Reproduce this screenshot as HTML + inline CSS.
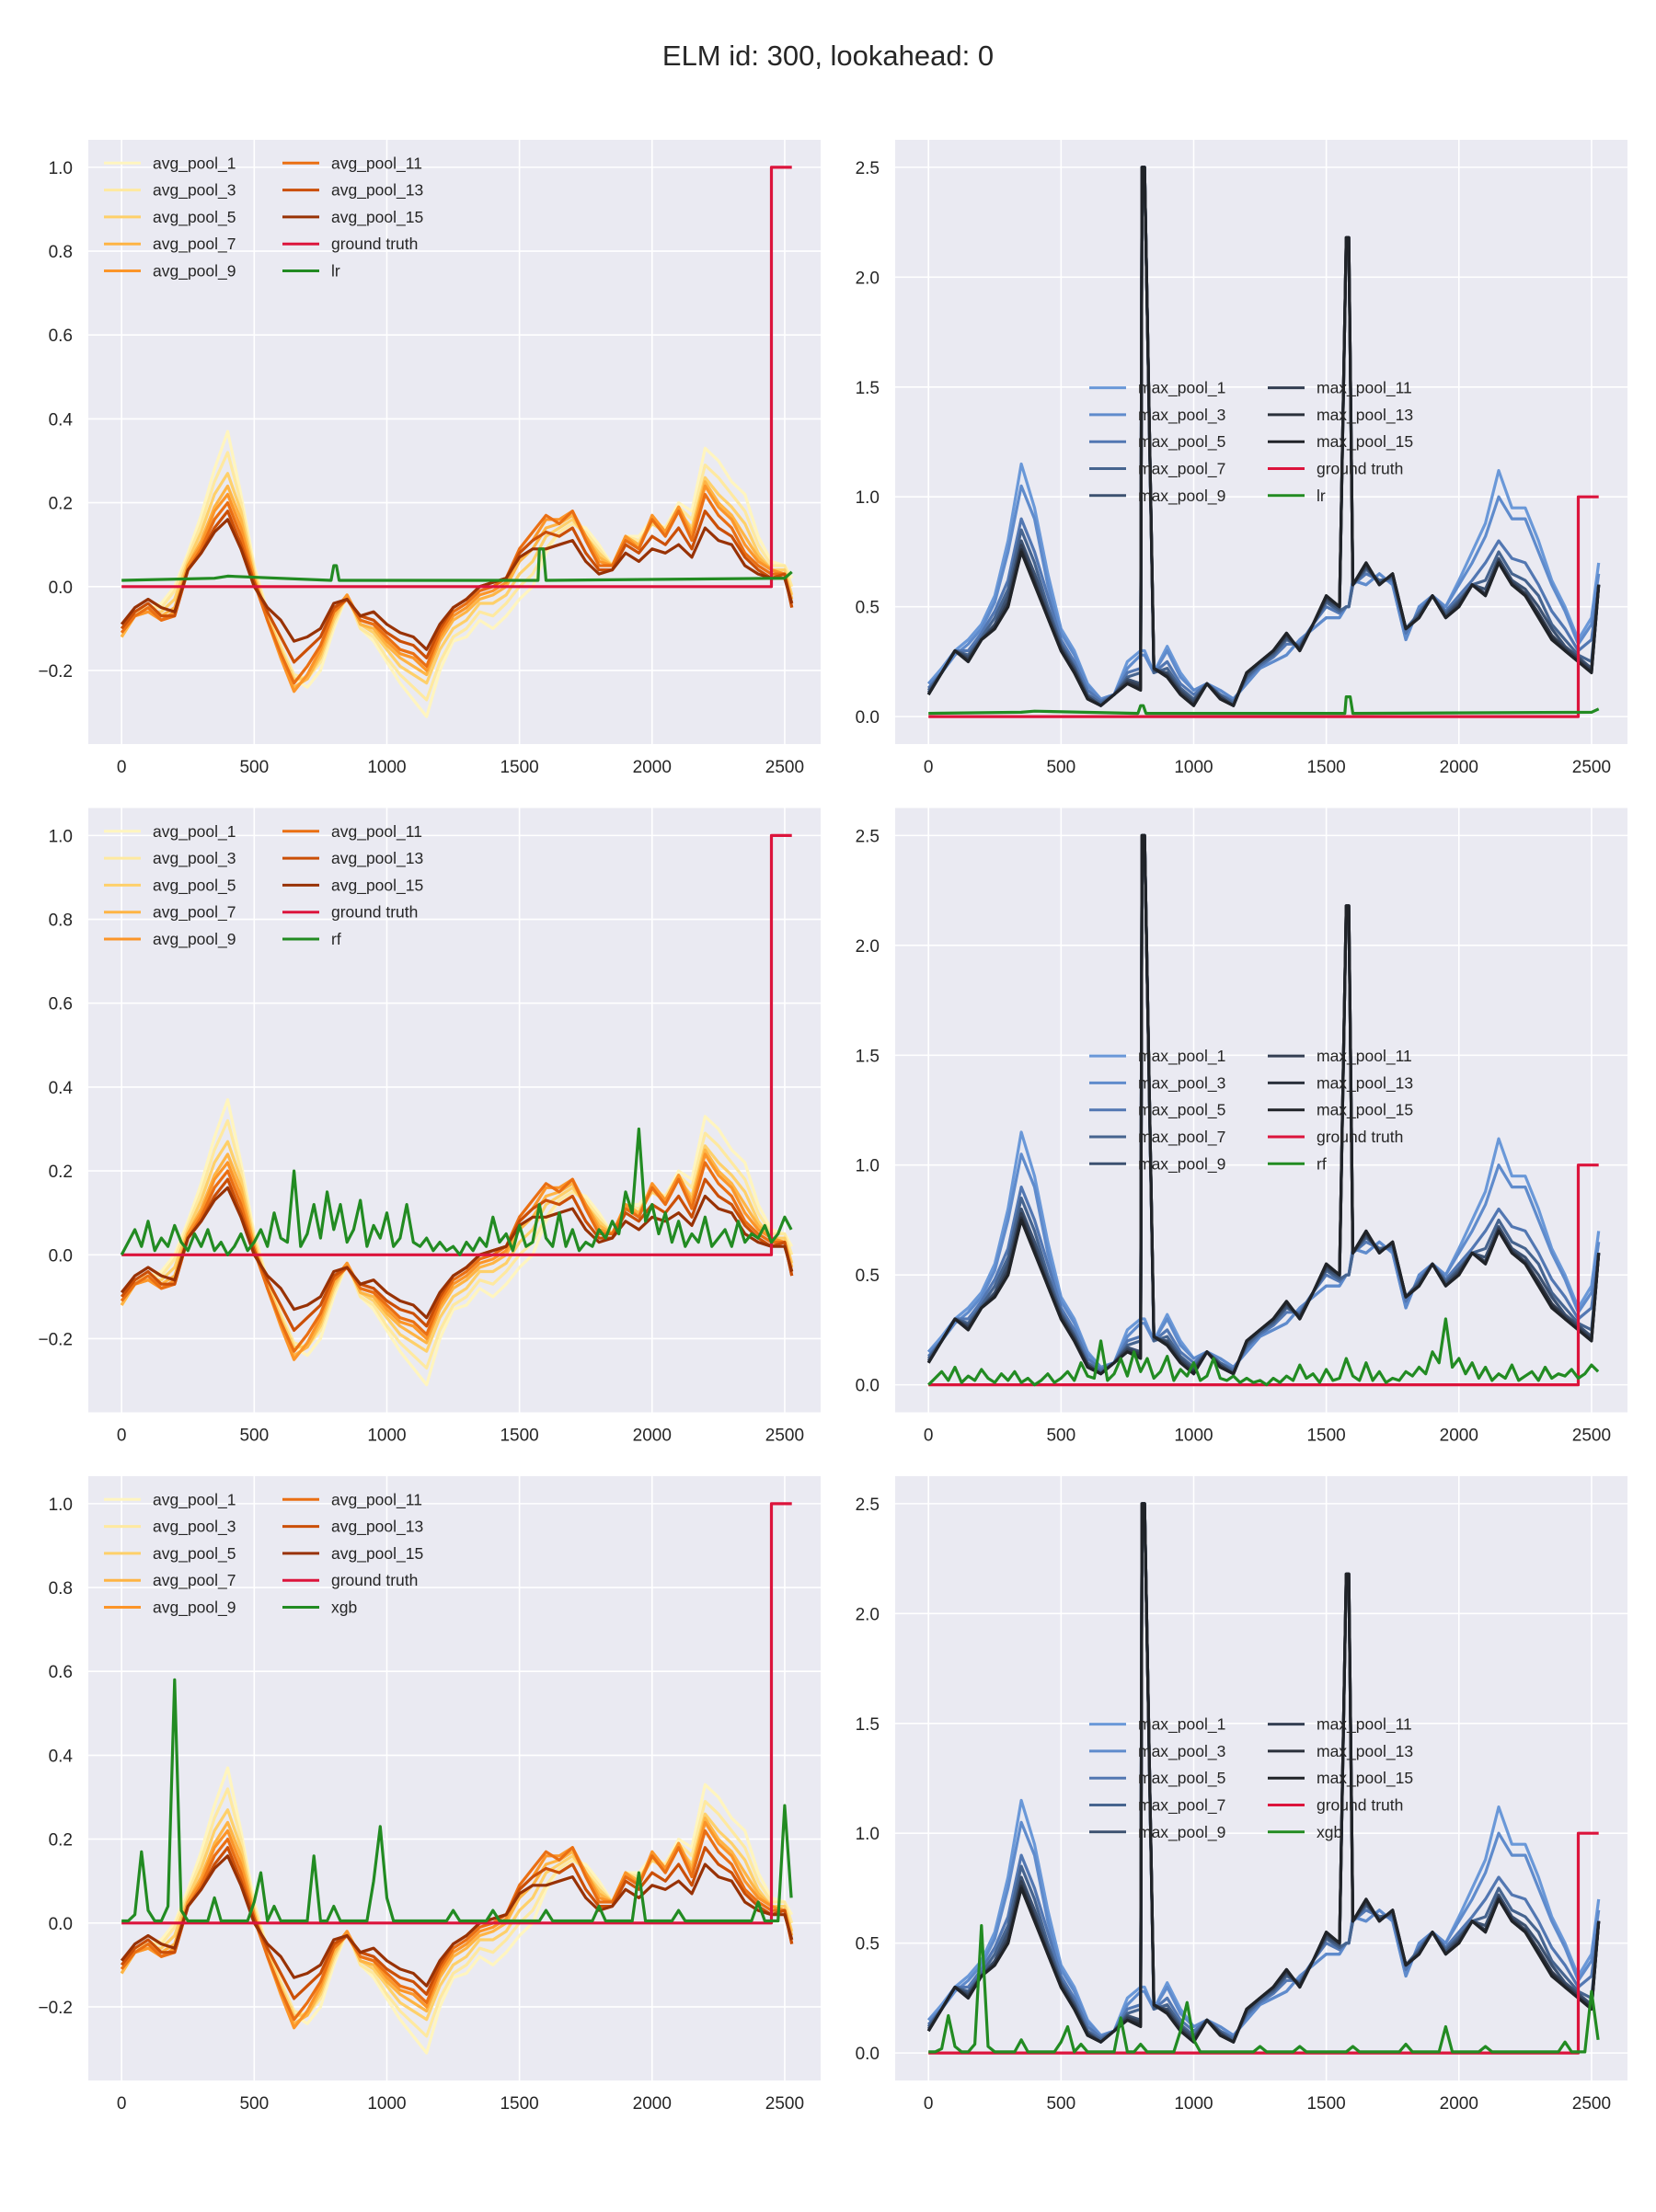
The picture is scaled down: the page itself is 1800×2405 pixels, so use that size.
<!DOCTYPE html>
<html><head><meta charset="utf-8">
<style>
html,body{margin:0;padding:0;background:#fff;}
svg text{font-family:"Liberation Sans","DejaVu Sans",sans-serif;fill:#262626;}
</style></head>
<body>
<svg id="fig" width="1800" height="2400" viewBox="0 0 1800 2400" xmlns="http://www.w3.org/2000/svg">
<rect width="1800" height="2400" fill="#fff"/>
<text x="900" y="71" font-size="31" text-anchor="middle">ELM id: 300, lookahead: 0</text>
</svg>
<script>
// ---------- data ----------
const avgX = [0,50,100,150,200,250,300,350,400,450,500,550,600,650,700,750,800,850,900,950,1000,1050,1100,1150,1200,1250,1300,1350,1400,1450,1500,1550,1600,1650,1700,1750,1800,1850,1900,1950,2000,2050,2100,2150,2200,2250,2300,2350,2400,2450,2500,2527];
const avg1 = [-0.12,-0.06,-0.05,-0.04,0.0,0.08,0.17,0.28,0.37,0.22,0.05,-0.06,-0.14,-0.22,-0.24,-0.20,-0.10,-0.02,-0.10,-0.13,-0.18,-0.23,-0.27,-0.31,-0.20,-0.13,-0.12,-0.08,-0.10,-0.07,-0.03,0.0,0.08,0.13,0.15,0.14,0.10,0.05,0.12,0.12,0.16,0.14,0.20,0.18,0.33,0.30,0.25,0.22,0.12,0.06,0.05,0.02];
const avg3 = [-0.12,-0.06,-0.05,-0.05,-0.01,0.07,0.15,0.25,0.32,0.20,0.04,-0.06,-0.14,-0.21,-0.22,-0.18,-0.09,-0.02,-0.10,-0.12,-0.17,-0.21,-0.24,-0.27,-0.18,-0.12,-0.10,-0.06,-0.07,-0.04,0.0,0.03,0.09,0.13,0.15,0.13,0.09,0.05,0.12,0.11,0.15,0.14,0.19,0.16,0.29,0.26,0.22,0.18,0.10,0.05,0.05,0.0];
const avg5 = [-0.12,-0.07,-0.06,-0.06,-0.03,0.06,0.13,0.22,0.27,0.18,0.03,-0.07,-0.15,-0.22,-0.22,-0.17,-0.08,-0.02,-0.09,-0.11,-0.15,-0.19,-0.21,-0.23,-0.15,-0.10,-0.08,-0.04,-0.04,-0.02,0.03,0.06,0.12,0.14,0.16,0.12,0.08,0.05,0.12,0.10,0.15,0.13,0.18,0.14,0.26,0.22,0.19,0.15,0.08,0.04,0.04,-0.02];
const avg7 = [-0.12,-0.07,-0.06,-0.07,-0.05,0.05,0.11,0.19,0.24,0.16,0.02,-0.08,-0.16,-0.24,-0.22,-0.16,-0.07,-0.02,-0.09,-0.10,-0.14,-0.17,-0.19,-0.21,-0.13,-0.08,-0.06,-0.03,-0.02,0.0,0.06,0.09,0.14,0.15,0.17,0.12,0.07,0.05,0.12,0.10,0.16,0.13,0.19,0.13,0.25,0.20,0.17,0.12,0.07,0.04,0.03,-0.03];
const avg9 = [-0.11,-0.07,-0.06,-0.08,-0.06,0.05,0.10,0.18,0.22,0.14,0.02,-0.08,-0.17,-0.25,-0.21,-0.15,-0.06,-0.02,-0.08,-0.09,-0.13,-0.16,-0.17,-0.20,-0.12,-0.07,-0.05,-0.02,-0.01,0.01,0.08,0.11,0.16,0.16,0.18,0.12,0.06,0.05,0.12,0.09,0.17,0.13,0.19,0.12,0.24,0.19,0.16,0.10,0.06,0.04,0.03,-0.04];
const avg11 = [-0.11,-0.07,-0.05,-0.08,-0.07,0.04,0.09,0.16,0.20,0.12,0.01,-0.08,-0.16,-0.23,-0.19,-0.14,-0.06,-0.03,-0.08,-0.09,-0.12,-0.15,-0.16,-0.19,-0.11,-0.06,-0.04,-0.01,0.0,0.02,0.09,0.13,0.17,0.15,0.18,0.11,0.05,0.05,0.11,0.09,0.16,0.12,0.18,0.11,0.22,0.17,0.14,0.08,0.05,0.03,0.03,-0.05];
const avg13 = [-0.10,-0.06,-0.04,-0.07,-0.07,0.04,0.08,0.14,0.18,0.10,0.01,-0.06,-0.12,-0.18,-0.15,-0.12,-0.05,-0.03,-0.07,-0.08,-0.11,-0.13,-0.14,-0.17,-0.10,-0.05,-0.03,0.0,0.01,0.02,0.08,0.11,0.13,0.12,0.14,0.08,0.04,0.04,0.10,0.08,0.12,0.10,0.14,0.09,0.18,0.14,0.12,0.07,0.04,0.02,0.03,-0.05];
const avg15 = [-0.09,-0.05,-0.03,-0.05,-0.06,0.04,0.08,0.13,0.16,0.09,0.0,-0.05,-0.08,-0.13,-0.12,-0.10,-0.04,-0.03,-0.07,-0.06,-0.09,-0.11,-0.12,-0.15,-0.09,-0.05,-0.03,0.0,0.01,0.02,0.07,0.09,0.09,0.10,0.11,0.06,0.03,0.04,0.08,0.06,0.09,0.08,0.10,0.07,0.14,0.11,0.10,0.05,0.03,0.02,0.02,-0.04];

const mpX = [0,50,100,150,200,250,300,350,400,450,500,550,600,650,700,750,800,805,815,850,900,950,1000,1050,1100,1150,1200,1250,1300,1350,1400,1450,1500,1550,1575,1585,1600,1650,1700,1750,1800,1850,1900,1950,2000,2050,2100,2150,2200,2250,2300,2350,2400,2450,2500,2527];
const mp1 = [0.15,0.22,0.3,0.35,0.42,0.55,0.8,1.15,0.95,0.65,0.4,0.3,0.15,0.08,0.1,0.25,0.3,0.3,0.3,0.2,0.32,0.2,0.12,0.15,0.12,0.08,0.15,0.22,0.25,0.28,0.35,0.4,0.45,0.45,0.5,0.5,0.62,0.6,0.65,0.6,0.35,0.5,0.55,0.5,0.62,0.75,0.88,1.12,0.95,0.95,0.8,0.62,0.5,0.35,0.45,0.7];
const mp3 = [0.15,0.2,0.28,0.33,0.4,0.52,0.75,1.05,0.9,0.6,0.38,0.28,0.14,0.08,0.1,0.22,0.28,0.28,0.28,0.2,0.3,0.18,0.12,0.15,0.12,0.08,0.15,0.22,0.25,0.28,0.35,0.4,0.45,0.45,0.5,0.5,0.62,0.6,0.65,0.6,0.35,0.5,0.55,0.5,0.6,0.7,0.82,1.0,0.9,0.9,0.75,0.6,0.48,0.33,0.42,0.65];
const mp5 = [0.13,0.2,0.3,0.3,0.38,0.48,0.62,0.9,0.75,0.55,0.35,0.25,0.12,0.07,0.1,0.2,0.22,2.5,2.5,0.2,0.25,0.15,0.1,0.15,0.1,0.07,0.17,0.23,0.27,0.33,0.33,0.42,0.5,0.47,0.5,0.5,0.6,0.65,0.62,0.62,0.38,0.48,0.55,0.48,0.55,0.62,0.7,0.8,0.72,0.7,0.6,0.48,0.4,0.3,0.35,0.6];
const mp7 = [0.12,0.2,0.3,0.28,0.36,0.45,0.58,0.85,0.7,0.5,0.33,0.23,0.1,0.06,0.1,0.18,0.2,2.5,2.5,0.2,0.22,0.13,0.08,0.15,0.1,0.06,0.18,0.24,0.28,0.35,0.32,0.42,0.52,0.48,0.5,0.5,0.6,0.67,0.62,0.63,0.4,0.47,0.55,0.47,0.53,0.6,0.62,0.75,0.65,0.62,0.55,0.42,0.35,0.28,0.25,0.6];
const mp9 = [0.11,0.2,0.3,0.27,0.35,0.42,0.55,0.8,0.65,0.48,0.32,0.22,0.09,0.05,0.1,0.17,0.15,2.5,2.5,0.21,0.2,0.12,0.07,0.15,0.09,0.05,0.19,0.25,0.29,0.36,0.31,0.42,0.53,0.49,2.18,2.18,0.6,0.68,0.61,0.64,0.4,0.46,0.55,0.46,0.52,0.6,0.58,0.72,0.62,0.58,0.5,0.4,0.32,0.27,0.22,0.6];
const mp11 = [0.1,0.2,0.3,0.26,0.35,0.41,0.52,0.78,0.62,0.46,0.31,0.21,0.09,0.05,0.1,0.16,0.14,2.5,2.5,0.22,0.19,0.11,0.06,0.15,0.09,0.05,0.2,0.25,0.3,0.37,0.31,0.42,0.54,0.5,2.18,2.18,0.6,0.69,0.6,0.65,0.4,0.45,0.55,0.45,0.51,0.6,0.56,0.71,0.61,0.56,0.47,0.37,0.31,0.26,0.21,0.6];
const mp13 = [0.1,0.2,0.3,0.25,0.35,0.4,0.5,0.76,0.61,0.45,0.3,0.2,0.08,0.05,0.1,0.15,0.13,2.5,2.5,0.22,0.18,0.1,0.05,0.15,0.08,0.05,0.2,0.25,0.3,0.38,0.3,0.42,0.55,0.5,2.18,2.18,0.6,0.7,0.6,0.65,0.4,0.45,0.55,0.45,0.5,0.6,0.55,0.7,0.6,0.55,0.46,0.36,0.3,0.25,0.2,0.6];
const mp15 = [0.1,0.2,0.3,0.25,0.35,0.4,0.5,0.75,0.6,0.45,0.3,0.2,0.08,0.05,0.1,0.15,0.12,2.5,2.5,0.22,0.18,0.1,0.05,0.15,0.08,0.05,0.2,0.25,0.3,0.38,0.3,0.42,0.55,0.5,2.18,2.18,0.6,0.7,0.6,0.65,0.4,0.45,0.55,0.45,0.5,0.6,0.55,0.7,0.6,0.55,0.45,0.35,0.3,0.25,0.2,0.6];

const gtX = [0,2450,2450,2527];
const gtY = [0,0,1,1];

const lrX = [0,350,400,790,800,810,820,1570,1575,1590,1600,2500,2527];
const lrY = [0.015,0.02,0.025,0.015,0.05,0.05,0.015,0.015,0.09,0.09,0.015,0.02,0.035];

const modelStep = 25;
const rfY = [0,0.03,0.06,0.02,0.08,0.01,0.04,0.02,0.07,0.03,0.01,0.05,0.02,0.06,0.01,0.03,0.0,0.02,0.05,0.01,0.03,0.06,0.02,0.1,0.04,0.03,0.2,0.02,0.05,0.12,0.04,0.15,0.06,0.12,0.03,0.06,0.13,0.02,0.07,0.04,0.1,0.02,0.04,0.12,0.03,0.02,0.04,0.01,0.03,0.01,0.02,0.0,0.03,0.01,0.04,0.02,0.09,0.03,0.05,0.01,0.07,0.02,0.03,0.12,0.04,0.02,0.1,0.02,0.06,0.01,0.03,0.02,0.06,0.04,0.08,0.05,0.15,0.1,0.3,0.08,0.12,0.05,0.1,0.03,0.08,0.02,0.05,0.03,0.09,0.02,0.04,0.06,0.02,0.08,0.03,0.05,0.04,0.07,0.03,0.05,0.09,0.06];
const xgbY = [0.005,0.005,0.02,0.17,0.03,0.005,0.005,0.04,0.58,0.03,0.005,0.005,0.005,0.005,0.06,0.005,0.005,0.005,0.005,0.005,0.05,0.12,0.005,0.04,0.005,0.005,0.005,0.005,0.005,0.16,0.005,0.005,0.04,0.005,0.005,0.005,0.005,0.005,0.1,0.23,0.06,0.005,0.005,0.005,0.005,0.005,0.005,0.005,0.005,0.005,0.03,0.005,0.005,0.005,0.005,0.005,0.03,0.005,0.005,0.005,0.005,0.005,0.005,0.005,0.03,0.005,0.005,0.005,0.005,0.005,0.005,0.005,0.04,0.005,0.005,0.005,0.005,0.005,0.12,0.005,0.005,0.005,0.005,0.005,0.03,0.005,0.005,0.005,0.005,0.005,0.005,0.005,0.005,0.005,0.005,0.005,0.05,0.005,0.005,0.005,0.28,0.06];

const avgNames = ['avg_pool_1','avg_pool_3','avg_pool_5','avg_pool_7','avg_pool_9','avg_pool_11','avg_pool_13','avg_pool_15'];
const mpNames = ['max_pool_1','max_pool_3','max_pool_5','max_pool_7','max_pool_9','max_pool_11','max_pool_13','max_pool_15'];
const xTicks = [0,500,1000,1500,2000,2500];
const leftYTicks = [-0.2,0,0.2,0.4,0.6,0.8,1.0];
const rightYTicks = [0,0.5,1.0,1.5,2.0,2.5];
const modelNames = ['lr','rf','xgb'];

// ---------- styles / layout ----------
const avgData = [avg1,avg3,avg5,avg7,avg9,avg11,avg13,avg15];
const mpData = [mp1,mp3,mp5,mp7,mp9,mp11,mp13,mp15];
const avgColors = ['#fff5bf','#fee9a0','#fed06a','#feb444','#fb9529','#ea6f13','#cb4f07','#983205'];
const mpColors = ['#6a98d8','#5f8bcc','#5277b2','#46648f','#3c5170','#333e52','#2a303b','#202328'];
const GT = '#dc143c', GREEN = '#228b22';
const NS = 'http://www.w3.org/2000/svg';
const fig = document.getElementById('fig');
const W = 796, H = 657, LX = 96, RX = 973, TOP0 = 152, ROWGAP = 726.5;
const XL = [-125.5, 2635.5];

function el(tag, attrs, parent){ const e=document.createElementNS(NS,tag); for(const k in attrs) e.setAttribute(k,attrs[k]); (parent||fig).appendChild(e); return e; }

function makeAxes(x0,y0,ylim,yTicks,fmt,name){
  const g = el('g',{});
  
  
  const sx = v => x0 + (v-XL[0])/(XL[1]-XL[0])*W;
  const sy = v => y0 + H - (v-ylim[0])/(ylim[1]-ylim[0])*H;
  const bg = el('rect',{x:x0,y:y0,width:W,height:H,fill:'#eaeaf2'},g);
  
  
  xTicks.forEach(t=>{
    const l = el('line',{x1:sx(t),x2:sx(t),y1:y0,y2:y0+H,stroke:'#fff','stroke-width':1.6},g);
    
    
    const tx = el('text',{x:sx(t),y:y0+H+31,'font-size':19,'text-anchor':'middle'},g);
    
    
    tx.textContent = t;
  });
  yTicks.forEach(t=>{
    const l = el('line',{x1:x0,x2:x0+W,y1:sy(t),y2:sy(t),stroke:'#fff','stroke-width':1.6},g);
    
    
    const tx = el('text',{x:x0-17,y:sy(t)+7,'font-size':19,'text-anchor':'end'},g);
    
    
    tx.textContent = fmt(t);
  });
  const clipId = name+'-clip';
  const cp = el('clipPath',{id:clipId},g);
  el('rect',{x:x0,y:y0,width:W,height:H},cp);
  const lines = el('g',{'clip-path':'url(#'+clipId+')'},g);
  return {g, sx, sy, lines};
}

function series(ax, xs, ys, color, name, w){
  const pts = xs.map((x,i)=>ax.sx(x).toFixed(1)+','+ax.sy(ys[i]).toFixed(1)).join(' ');
  const p = el('polyline',{points:pts,fill:'none',stroke:color,'stroke-width':w||3.2,'stroke-linejoin':'round'},ax.lines);
  
  
}

function legend(ax, names, colors, hx, ty, name){
  const g = el('g',{},ax.g);
  
  
  names.forEach((n,i)=>{
    const col = Math.floor(i/5), row = i%5;
    const x = hx + col*194, y = ty + row*29.3;
    const h = el('line',{x1:x,x2:x+40,y1:y,y2:y,stroke:colors[i],'stroke-width':3},g);
    
    
    const t = el('text',{x:x+53,y:y+6,'font-size':17.5},g);
    
    
    t.textContent = n;
  });
}

const modelX = rfY.map((_,i)=>i*modelStep);
const models = [[lrX,lrY],[modelX,rfY],[modelX,xgbY]];

for(let r=0;r<3;r++){
  const y0 = TOP0 + r*ROWGAP;
  const [mx,my] = models[r];
  const mname = modelNames[r];
  const L = makeAxes(LX,y0,[-0.3755,1.0655],leftYTicks,t=>(t<0?'\u22120.2':t.toFixed(1)),'avg-pool-panel-'+mname);
  avgData.forEach((d,i)=>series(L,avgX,d,avgColors[i],avgNames[i].replace('_','-').replace('_','-')+'-line'));
  series(L,gtX,gtY,GT,'ground-truth-line');
  series(L,mx,my,GREEN,mname+'-line');
  legend(L,[...avgNames,'ground truth',mname],[...avgColors,GT,GREEN],113,y0+25.3,'avg-legend');
  const R = makeAxes(RX,y0,[-0.125,2.625],rightYTicks,t=>t.toFixed(1),'max-pool-panel-'+mname);
  mpData.forEach((d,i)=>series(R,mpX,d,mpColors[i],mpNames[i].replace('_','-').replace('_','-')+'-line'));
  series(R,gtX,gtY,GT,'ground-truth-line');
  series(R,mx,my,GREEN,mname+'-line');
  legend(R,[...mpNames,'ground truth',mname],[...mpColors,GT,GREEN],1184,y0+269.6,'max-legend');
}
</script>
</body></html>
